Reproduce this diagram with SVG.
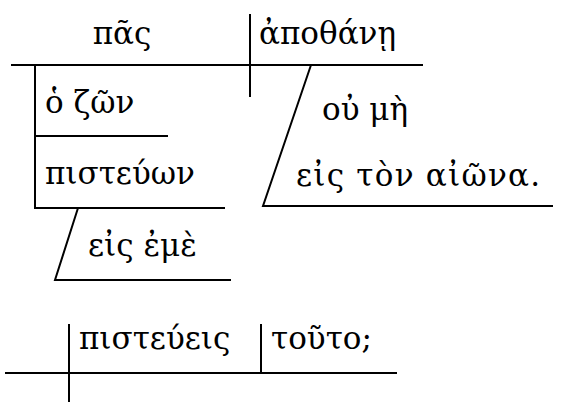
<svg xmlns="http://www.w3.org/2000/svg" width="565" height="402" viewBox="0 0 565 402">
<style>
.l{stroke:#000;stroke-width:2;fill:none}
text{font-family:"DejaVu Serif","Liberation Serif",serif;font-size:31px;fill:#000}
</style>
<rect width="565" height="402" fill="#fff"/>
<g id="connectors">
<line class="l" x1="11" y1="65" x2="423" y2="65"/>
<line class="l" x1="250" y1="14" x2="250" y2="97"/>
<polyline class="l" points="35,65 35,208 225,208"/>
<line class="l" x1="35" y1="136" x2="168" y2="136"/>
<polyline class="l" points="78,208 55,280 231,280"/>
<polyline class="l" points="311,65 263,206 553,206"/>
<line class="l" x1="5" y1="373" x2="397" y2="373"/>
<line class="l" x1="69" y1="324" x2="69" y2="402"/>
<line class="l" x1="261" y1="324" x2="261" y2="373"/>
</g>
<g id="subject"><text x="122" y="44" text-anchor="middle">πᾶς</text></g>
<g id="verb"><text x="259" y="44">ἀποθάνῃ</text></g>
<g id="mod1"><text x="45" y="113">ὁ ζῶν</text></g>
<g id="mod2"><text x="45" y="184">πιστεύων</text></g>
<g id="mod3"><text x="88" y="256">εἰς ἐμὲ</text></g>
<g id="adv1"><text x="322" y="120">οὐ μὴ</text></g>
<g id="adv2"><text x="296" y="186" textLength="244" lengthAdjust="spacing">εἰς τὸν αἰῶνα.</text></g>
<g id="verb2"><text x="79" y="349">πιστεύεις</text></g>
<g id="obj2"><text x="271" y="349">τοῦτο;</text></g>
</svg>
